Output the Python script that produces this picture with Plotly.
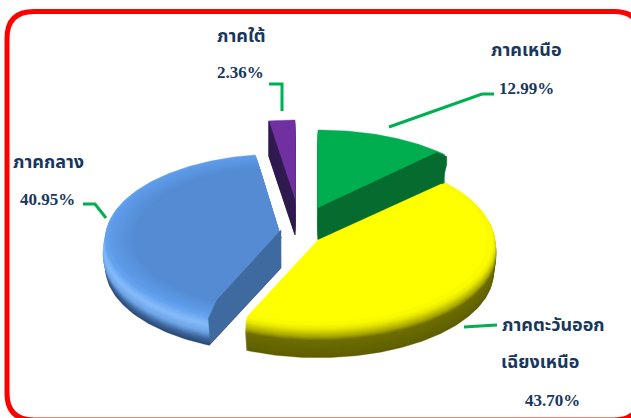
import numpy as np
import plotly.graph_objects as go

# ---- data ----
regions = ["ภาคเหนือ", "ภาคตะวันออกเฉียงเหนือ", "ภาคกลาง", "ภาคใต้"]
shares = [12.99, 43.70, 40.95, 2.36]
share_labels = ["12.99%", "43.70%", "40.95%", "2.36%"]

W, H = 631, 418
NAVY = "#17375e"
LEADER = "#00b050"
TEXT_FONT = "Liberation Serif, Noto Sans Thai, Loma, Garuda, serif"

# exploded slice geometry: centre x, centre y, radius x, radius y, depth
geom = {
    0: (318, 208, 174, 78, 32),
    1: (318, 240, 178, 86, 33),
    2: (281, 238, 178, 86, 30),
    3: (295, 200, 178, 80, 35),
}
# which cut side is visible: 0 start, 1 end, None
cut_side = {0: 1, 1: None, 2: 0, 3: 0}
cut_color = {0: "#056b2e", 2: "#3f6a9f", 3: "#2e1a4e"}
# extrusion ramp: (offset fraction of depth, radial scale, colour)
ramps = {
    0: [(1.0, 1.0, "#056b2e"), (0.0, 1.0, "#00ae4f")],
    1: [(1.0, 0.985, "#5f5f00"), (0.45, 1.0, "#6e6e00"), (0.34, 1.0, "#a5a500"),
        (0.12, 0.995, "#e8e800"), (0.0, 0.98, "#ffff00"), (-0.01, 0.95, "#ffff00")],
    2: [(1.0, 0.985, "#2c4a74"), (0.80, 0.99, "#3f689e"), (0.55, 1.0, "#6fa6e8"),
        (0.30, 0.995, "#86bcfb"), (0.0, 0.985, "#609eec"), (-0.01, 0.97, "#5f9cea"),
        (-0.4, 0.82, "#548bd2")],
    3: [(1.0, 1.0, "#2e1a4e"), (0.0, 1.0, "#7030a0")],
}


def hex2rgb(c):
    return np.array([int(c[i:i + 2], 16) for i in (1, 3, 5)], float)


def wedge(cx, cy, rx, ry, a0, a1):
    t = np.linspace(a0, a1, max(int(np.degrees(a1 - a0)), 4))
    xs = np.r_[cx, cx + rx * np.sin(t), cx]
    ys = np.r_[cy, cy - ry * np.cos(t), cy]
    return xs, ys


def poly(fig, xs, ys, color):
    fig.add_trace(go.Scatter(x=xs, y=ys, mode="lines", fill="toself",
                             fillcolor=color, line=dict(width=0.4, color=color),
                             hoverinfo="skip", showlegend=False))


fig = go.Figure()
edges = np.radians(np.r_[0, np.cumsum(shares)] / np.sum(shares) * 360)

for i in [3, 2, 0, 1]:
    cx, cy, rx, ry, d = geom[i]
    a0, a1 = edges[i], edges[i + 1]
    ramp = ramps[i]
    off = np.array([s[0] for s in ramp])[::-1]
    scl = np.array([s[1] for s in ramp])[::-1]
    col = np.array([hex2rgb(s[2]) for s in ramp])[::-1]
    for f in np.linspace(off[-1], off[0], 34):
        s = np.interp(f, off, scl)
        c = [np.interp(f, off, col[:, k]) for k in range(3)]
        yc = cy + d * max(f, 0)
        xs, ys = wedge(cx, yc, rx * s, ry * s, a0, a1)
        poly(fig, xs, ys, "rgb(%d,%d,%d)" % tuple(c))
    if cut_side[i] is not None:
        a = a1 if cut_side[i] else a0
        ox, oy = cx + rx * np.sin(a), cy - ry * np.cos(a)
        if i == 2:
            px = [cx, cx, ox + 2, ox, cx + 0.88 * (ox - cx), cx]
            py = [cy - 8, cy + d, oy + d - 3, oy + 2, cy + 0.88 * (oy - cy) - 7, cy - 8]
        elif i == 0:
            px = [cx, cx, ox - 3, ox + 2, ox + 2, ox - 8, cx]
            py = [cy, cy + d, oy + d - 2, oy + 10, oy + 2, oy - 2, cy]
        else:
            px = [cx, cx, ox, ox, cx]
            py = [cy, cy + d, oy + d, oy, cy]
        poly(fig, px, py, cut_color[i])

# leader lines
leaders = [
    [(389, 127), (482, 94), (494, 94)],
    [(464, 327), (480, 326), (497, 325)],
    [(83, 204), (95, 204), (106, 218)],
    [(269, 84), (282, 84), (282, 111)],
]
shapes = []
for pts in leaders:
    p = "M" + " L".join(f"{x},{y}" for x, y in pts)
    shapes.append(dict(type="path", path=p, line=dict(color=LEADER, width=3), xref="x", yref="y"))

# frame
L, T, R, B, r = 7, 11.5, 641, 420, 27
frame = (f"M{L+r},{T} L{R-r},{T} Q{R},{T} {R},{T+r} L{R},{B-r} Q{R},{B} {R-r},{B} "
         f"L{L+r},{B} Q{L},{B} {L},{B-r} L{L},{T+r} Q{L},{T} {L+r},{T} Z")
shapes.append(dict(type="path", path=frame, line=dict(color="#ff0000", width=5), xref="x", yref="y"))

labels = [
    (526, 50, "ภาคเหนือ", 18), (526, 88, share_labels[0], 17),
    (553, 325, "ภาคตะวันออก", 18), (540, 362, "เฉียงเหนือ", 18), (552, 400, share_labels[1], 17),
    (48, 162, regions[2], 18), (47, 199, share_labels[2], 17),
    (241, 36, regions[3], 18), (240, 72, share_labels[3], 17),
]
annotations = [dict(x=x, y=y, text=f"<b>{t}</b>", showarrow=False, xref="x", yref="y",
                    xanchor="center", yanchor="middle",
                    font=dict(family=TEXT_FONT, size=sz, color=NAVY))
               for x, y, t, sz in labels]

fig.update_layout(
    width=W, height=H, margin=dict(l=0, r=0, t=0, b=0),
    paper_bgcolor="white", plot_bgcolor="white", showlegend=False,
    xaxis=dict(range=[0, W], visible=False, fixedrange=True),
    yaxis=dict(range=[H, 0], visible=False, fixedrange=True),
    shapes=shapes, annotations=annotations,
)
fig.write_html("out.html", config={"displayModeBar": False},
               post_script="document.body.style.margin='0';")
